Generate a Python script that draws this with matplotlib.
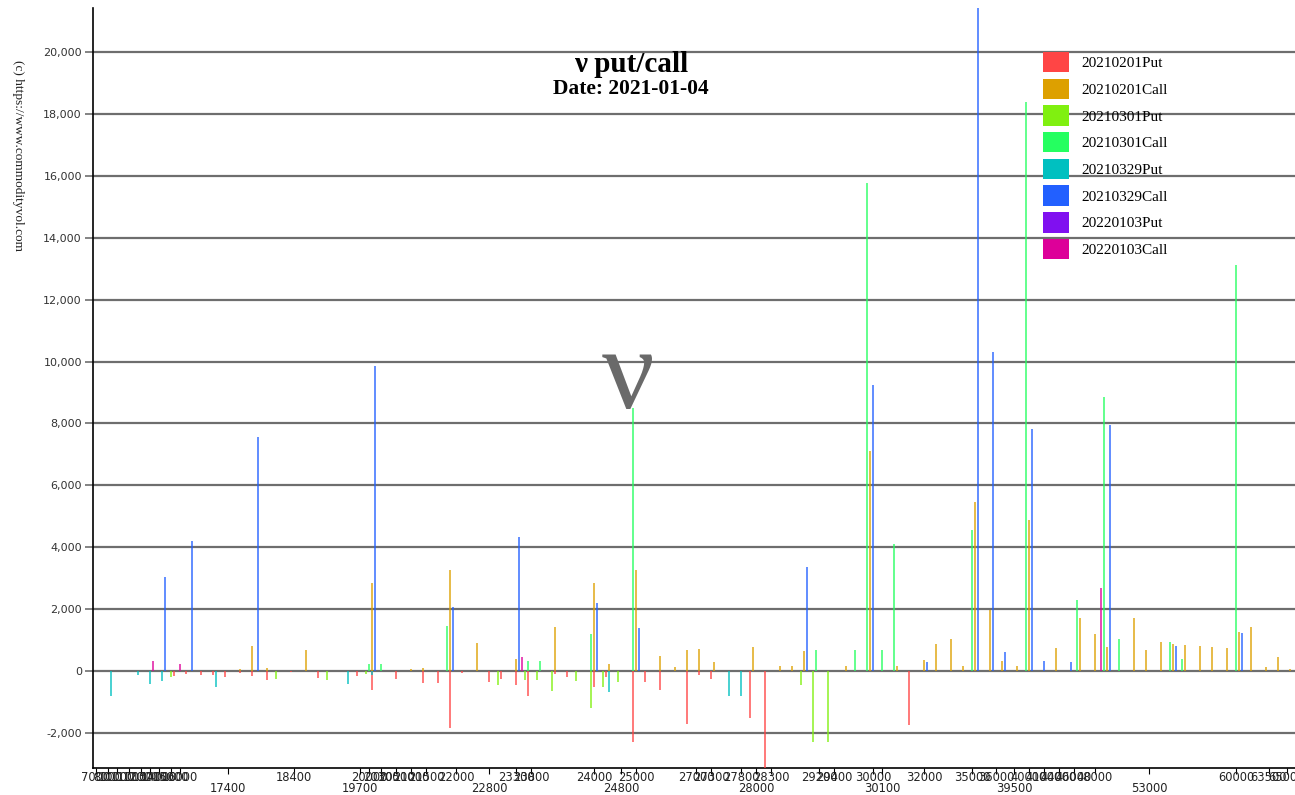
import matplotlib.pyplot as plt
import matplotlib.ticker as mticker
from matplotlib.patches import Patch

plt.rcParams['font.family'] = ['DejaVu Sans']

# x = rank of the strike on the ordinal strike axis, y = vega per series
series_names = ['20210201Put', '20210201Call', '20210301Put', '20210301Call',
                '20210329Put', '20210329Call', '20220103Put', '20220103Call']
series_colors = ['#ff4545', '#dda000', '#80f010', '#25ff60',
                 '#00c0c0', '#2260ff', '#8010f0', '#dd0099']

put_0201_rank = [27, 31, 36, 40, 44, 49, 53, 58, 66, 75, 88, 93, 101, 110, 115, 119, 123,
                 132, 136, 141, 145, 154, 158, 167, 171, 180, 184, 189, 198, 202, 206, 219, 224, 272]
put_0201_vol = [-170, -90, -110, -140, -195, -65, -170, -300, -20, -215, -170, -600, -260, -380,
                -380, -1840, -65, -355, -270, -465, -790, -85, -195, -520, -195, -2280, -355, -625,
                -1710, -130, -270, -1530, -3300, -1730]

call_0201_rank = [49, 53, 58, 71, 93, 106, 110, 119, 128, 141, 154, 167, 172, 181, 189, 194, 198,
                  202, 207, 220, 229, 233, 237, 251, 259, 268, 277, 281, 286, 290, 294, 299, 303,
                  308, 312, 321, 329, 334, 338, 347, 351, 356, 360, 364, 369, 373, 378, 382, 386,
                  391, 395, 399]
call_0201_vol = [75, 800, 85, 670, 2850, 75, 85, 3265, 910, 390, 1430, 2830, 240, 3265, 500, 130,
                 670, 725, 290, 780, 150, 150, 650, 150, 7110, 170, 350, 890, 1050, 170, 5460, 1970,
                 335, 150, 4880, 745, 1730, 1190, 775, 1720, 670, 930, 890, 855, 820, 790, 760, 1265,
                 1430, 130, 465, 55]

put_0301_rank = [26, 61, 78, 91, 135, 144, 148, 153, 161, 166, 170, 175, 236, 240, 245]
put_0301_vol = [-195, -260, -300, -85, -445, -300, -300, -650, -325, -1190, -520, -355, -445,
                -2280, -2280]

call_0301_rank = [92, 96, 118, 145, 149, 166, 180, 241, 254, 258, 263, 267, 293, 311, 328, 337,
                  342, 359, 363, 381]
call_0301_vol = [215, 240, 1450, 335, 335, 1210, 8500, 690, 690, 15770, 690, 4100, 4555, 18380,
                 2290, 8850, 1030, 950, 380, 13120]

put_0329_rank = [6, 15, 19, 23, 41, 85, 93, 172, 212, 216]
put_0329_vol = [-790, -140, -410, -325, -520, -430, -140, -660, -790, -790]

call_0329_rank = [24, 33, 55, 94, 120, 142, 168, 182, 238, 260, 278, 295, 300, 304, 313, 317,
                  326, 339, 361, 383]
call_0329_vol = [3040, 4200, 7560, 9855, 2075, 4330, 2200, 1405, 3360, 9240, 300, 21500, 10300,
                 615, 7820, 315, 290, 7950, 800, 1220]

put_2201_rank = []
put_2201_vol = []

call_2201_rank = [20, 29, 143, 336]
call_2201_vol = [325, 240, 455, 2670]

# strike labels on the axis (two staggered rows)
top_strikes = ['7000', '8000', '10000', '11000', '12000', '13000', '14000', '15000', '16000',
               '18400', '20000', '20300', '20500', '21000', '21500', '22000', '23300', '23800',
               '24000', '25000', '27000', '27300', '27800', '28300', '29200', '29400', '30000',
               '32000', '35000', '36000', '40000', '41000', '44000', '46000', '48000', '60000',
               '63500', '65000']
top_ranks = [1, 5, 8, 12, 16, 19, 22, 26, 29, 67, 92, 96, 101, 106, 111, 121, 141, 146, 167, 181,
             201, 206, 216, 226, 242, 247, 260, 277, 293, 301, 312, 317, 322, 327, 334, 381, 392, 398]
bottom_strikes = ['17400', '19700', '22800', '24800', '28000', '30100', '39500', '53000']
bottom_ranks = [45, 89, 132, 176, 221, 263, 307, 352]

ranks = [put_0201_rank, call_0201_rank, put_0301_rank, call_0301_rank,
         put_0329_rank, call_0329_rank, put_2201_rank, call_2201_rank]
vols = [put_0201_vol, call_0201_vol, put_0301_vol, call_0301_vol,
        put_0329_vol, call_0329_vol, put_2201_vol, call_2201_vol]

fig = plt.figure(figsize=(12.95, 7.95), dpi=100)
ax = fig.add_axes([93 / 1295, 1 - 768 / 795, 1 - 93 / 1295, 760 / 795])

for r, v, c in zip(ranks, vols, series_colors):
    ax.bar(r, v, width=0.75, color=c, alpha=0.7, zorder=3)

ax.set_xlim(0, 400.7)
ax.set_ylim(-3130, 21420)

# horizontal grid
ax.set_yticks(range(-2000, 20001, 2000))
ax.yaxis.set_major_formatter(mticker.FuncFormatter(lambda y, _: f'{y:,.0f}'))
ax.grid(axis='y', color='#6e6e6e', linewidth=1.6, zorder=1)
ax.tick_params(axis='y', length=6, width=1.2, color='#6e6e6e', labelsize=8,
               labelcolor='#333333', pad=2)

ax.set_xticks(top_ranks, top_strikes)
ax.set_xticks(bottom_ranks, bottom_strikes, minor=True)
ax.tick_params(axis='x', which='both', length=4, width=0.8, labelsize=8.3, labelcolor='#222222')
ax.tick_params(axis='x', which='major', pad=-1.5)
ax.tick_params(axis='x', which='minor', pad=6)

for side in ['top', 'right']:
    ax.spines[side].set_visible(False)
ax.spines['left'].set_linewidth(1.2)
ax.spines['bottom'].set_linewidth(1.2)

# titles and watermark
fig.text(631 / 1295, 1 - 64 / 795, 'ν put/call', ha='center', va='center',
         family='Liberation Serif', weight='bold', fontsize=21)
fig.text(631 / 1295, 1 - 89 / 795, 'Date: 2021-01-04', ha='center', va='center',
         family='Liberation Serif', weight='bold', fontsize=15.5)
fig.text(628 / 1295, 1 - 380 / 795, 'ν', ha='center', va='center',
         family='Liberation Serif', fontsize=84, color='#6a6a6a')
fig.text(18 / 1295, 1 - 156 / 795, '(c) https://www.commodityvol.com', rotation=-90,
         ha='center', va='center', family='Liberation Serif', fontsize=9.6, color='#222222')

handles = [Patch(facecolor=c, edgecolor='none') for c in series_colors]
fig.legend(handles, series_names, loc='upper left', bbox_to_anchor=(1043 / 1295, 1 - 52 / 795),
           frameon=False, prop={'family': 'Liberation Serif', 'size': 11},
           handlelength=1.7, handleheight=1.68, labelspacing=0.41, handletextpad=0.8,
           borderpad=0, borderaxespad=0)

fig.savefig('out.png', dpi=100)
